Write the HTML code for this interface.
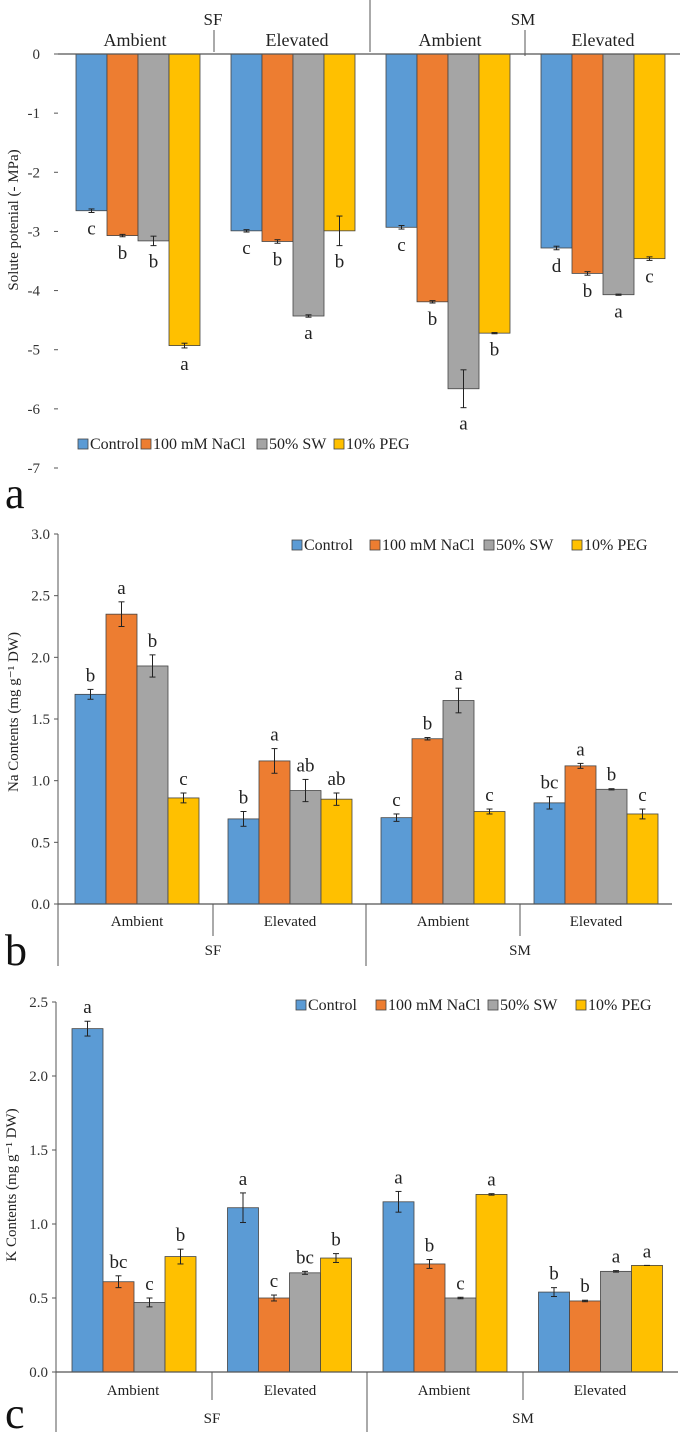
<!DOCTYPE html>
<html><head><meta charset="utf-8">
<style>
html,body{margin:0;padding:0;background:#fff;}
svg{display:block;font-family:"Liberation Serif",serif;}
</style></head>
<body>
<svg id="fig" width="685" height="1432" viewBox="0 0 685 1432" xmlns="http://www.w3.org/2000/svg"></svg>
<script>
const seriesNames = ["Control","100 mM NaCl","50% SW","10% PEG"];
const seriesColors = ["#5b9bd5","#ed7d31","#a5a5a5","#ffc000"];
const groupLabels = ["Ambient","Elevated","Ambient","Elevated"];
const siteLabels = ["SF","SM"];

// Panel a: solute potential (rows = groups, cols = series)
const aValues = [[-2.65,-3.07,-3.16,-4.93],[-2.99,-3.17,-4.43,-2.99],[-2.93,-4.19,-5.66,-4.72],[-3.28,-3.71,-4.07,-3.46]];
const aErrors = [[0.03,0.02,0.08,0.04],[0.02,0.03,0.02,0.25],[0.03,0.02,0.32,0.01],[0.03,0.03,0.01,0.03]];
const aLetters = [["c","b","b","a"],["c","b","a","b"],["c","b","a","b"],["d","b","a","c"]];
const aTicks = [0,-1,-2,-3,-4,-5,-6,-7];

// Panel b: Na contents
const bValues = [[1.70,2.35,1.93,0.86],[0.69,1.16,0.92,0.85],[0.70,1.34,1.65,0.75],[0.82,1.12,0.93,0.73]];
const bErrors = [[0.04,0.10,0.09,0.04],[0.06,0.10,0.09,0.05],[0.03,0.01,0.10,0.02],[0.05,0.02,0.005,0.04]];
const bLetters = [["b","a","b","c"],["b","a","ab","ab"],["c","b","a","c"],["bc","a","b","c"]];
const bTicks = [0,0.5,1,1.5,2,2.5,3];

// Panel c: K contents
const cValues = [[2.32,0.61,0.47,0.78],[1.11,0.50,0.67,0.77],[1.15,0.73,0.50,1.20],[0.54,0.48,0.68,0.72]];
const cErrors = [[0.05,0.04,0.03,0.05],[0.10,0.02,0.01,0.03],[0.07,0.03,0.005,0.005],[0.03,0.005,0.005,0.0]];
const cLetters = [["a","bc","c","b"],["a","c","bc","b"],["a","b","c","a"],["b","b","a","a"]];
const cTicks = [0,0.5,1,1.5,2,2.5];

const NS="http://www.w3.org/2000/svg";
const svg=document.getElementById('fig');
function mk(tag,attrs,parent){const e=document.createElementNS(NS,tag);for(const k in attrs)e.setAttribute(k,attrs[k]);(parent||svg).appendChild(e);return e;}
function txt(s,x,y,size,anchor,parent,extra){const t=mk('text',Object.assign({x:x,y:y,'font-size':size,'text-anchor':anchor||'middle',fill:'#222'},extra||{}),parent);t.textContent=s;return t;}

function panel(cfg){
  const g=mk('g',{});
  
  
  const y=v=>cfg.y0+(v-cfg.vmin)/(cfg.vmax-cfg.vmin)*(cfg.y1-cfg.y0);
  const x=(gi,si)=>cfg.x0+gi*cfg.stride+si*cfg.bw;
  cfg.ticks.forEach(t=>{
    const yy=y(t);
    const tl=txt(cfg.fmt(t),cfg.tickX,yy+5,15,'end',g,{fill:'#333'});
    
    
    mk('line',{x1:cfg.axisX-4,x2:cfg.axisX,y1:yy,y2:yy,stroke:'#555','stroke-width':1},g);
  });
  if(cfg.axisLine){const al=mk('line',{x1:cfg.axisX,x2:cfg.axisX,y1:cfg.axisTop,y2:cfg.axisBottom,stroke:'#555','stroke-width':1},g);
    }
  cfg.values.forEach((row,gi)=>row.forEach((v,si)=>{
    const xx=x(gi,si), yv=y(v), yz=y(0);
    const r=mk('rect',{x:xx,y:Math.min(yv,yz),width:cfg.bw,height:Math.abs(yv-yz),fill:seriesColors[si],stroke:'#444','stroke-width':0.8},g);
    
    
    const e=cfg.errors[gi][si], cx=xx+cfg.bw/2;
    const ya=y(v+e), yb=y(v-e);
    mk('line',{x1:cx,x2:cx,y1:ya,y2:yb,stroke:'#222','stroke-width':1},g);
    mk('line',{x1:cx-3,x2:cx+3,y1:ya,y2:ya,stroke:'#222','stroke-width':1},g);
    mk('line',{x1:cx-3,x2:cx+3,y1:yb,y2:yb,stroke:'#222','stroke-width':1},g);
    const ly = cfg.neg ? Math.max(ya,yb)+22 : Math.min(ya,yb)-8;
    const lt=txt(cfg.letters[gi][si],cx,ly,19,'middle',g);
    
    
  }));
  const zl=mk('line',{x1:cfg.axisX,x2:cfg.zeroEnd,y1:y(0),y2:y(0),stroke:'#555','stroke-width':1.2},g);
  
  let lx=cfg.legX;
  const lg=mk('g',{},g);
  
  seriesNames.forEach((n,si)=>{
    const sw=mk('rect',{x:lx,y:cfg.legY-9,width:10,height:10,fill:seriesColors[si],stroke:'#444','stroke-width':0.8},lg);
    
    const t=txt(n,lx+12,cfg.legY+1,16,'start',lg);
    
    lx+=cfg.legGaps[si];
  });
  const yt=txt(cfg.ytitle,0,0,15,'middle',g);
  yt.setAttribute('transform','translate('+cfg.ytX+','+cfg.ytY+') rotate(-90)');
  
  const pl=txt(cfg.letter,5,cfg.letterY,44,'start',g,{fill:'#111'});
  
  return {g,x,y};
}

const A=panel({name:'panel-a-solute-potential',values:aValues,errors:aErrors,letters:aLetters,ticks:aTicks,
  fmt:t=>String(t),vmin:0,vmax:-7,y0:54,y1:468,x0:76,stride:155,bw:31,tickX:40,axisX:58,axisLine:false,
  zeroEnd:680,neg:true,legX:78,legY:448,legGaps:[63,116,77,80],ytitle:'Solute potenial (- MPa)',ytX:18,ytY:220,letter:'a',letterY:508});
[[135,'Ambient'],[297,'Elevated'],[450,'Ambient'],[603,'Elevated']].forEach(p=>{const t=txt(p[1],p[0],46,18,'middle',A.g);});
[[213,'SF'],[523,'SM']].forEach(p=>{const t=txt(p[1],p[0],25,17,'middle',A.g);});
mk('line',{x1:214,x2:214,y1:30,y2:52,stroke:'#555'},A.g);
mk('line',{x1:370,x2:370,y1:0,y2:52,stroke:'#555'},A.g);
mk('line',{x1:525,x2:525,y1:30,y2:56,stroke:'#555'},A.g);

const B=panel({name:'panel-b-na-contents',values:bValues,errors:bErrors,letters:bLetters,ticks:bTicks,
  fmt:t=>t.toFixed(1),vmin:0,vmax:3,y0:904,y1:534,x0:75,stride:153,bw:31,tickX:50,axisX:58,axisLine:true,axisTop:534,axisBottom:966,
  zeroEnd:672,neg:false,legX:292,legY:549,legGaps:[78,114,88,80],ytitle:'Na Contents (mg g\u207B\u00B9 DW)',ytX:18,ytY:712,letter:'b',letterY:965});
[[137,'Ambient'],[290,'Elevated'],[443,'Ambient'],[596,'Elevated']].forEach(p=>{const t=txt(p[1],p[0],926,15,'middle',B.g);});
[[213,'SF'],[520,'SM']].forEach(p=>{const t=txt(p[1],p[0],955,15,'middle',B.g);});
mk('line',{x1:213,x2:213,y1:904,y2:936,stroke:'#555'},B.g);
mk('line',{x1:366,x2:366,y1:904,y2:966,stroke:'#555'},B.g);
mk('line',{x1:520,x2:520,y1:904,y2:936,stroke:'#555'},B.g);

const C=panel({name:'panel-c-k-contents',values:cValues,errors:cErrors,letters:cLetters,ticks:cTicks,
  fmt:t=>t.toFixed(1),vmin:0,vmax:2.5,y0:1372,y1:1002,x0:72,stride:155.5,bw:31,tickX:48,axisX:56,axisLine:true,axisTop:1002,axisBottom:1432,
  zeroEnd:678,neg:false,legX:296,legY:1009,legGaps:[80,112,88,80],ytitle:'K Contents (mg g\u207B\u00B9 DW)',ytX:16,ytY:1185,letter:'c',letterY:1428});
[[133,'Ambient'],[290,'Elevated'],[444,'Ambient'],[600,'Elevated']].forEach(p=>{const t=txt(p[1],p[0],1395,15,'middle',C.g);});
[[212,'SF'],[523,'SM']].forEach(p=>{const t=txt(p[1],p[0],1423,15,'middle',C.g);});
mk('line',{x1:212,x2:212,y1:1372,y2:1400,stroke:'#555'},C.g);
mk('line',{x1:367,x2:367,y1:1372,y2:1432,stroke:'#555'},C.g);
mk('line',{x1:523,x2:523,y1:1372,y2:1400,stroke:'#555'},C.g);
</script>
</body></html>
